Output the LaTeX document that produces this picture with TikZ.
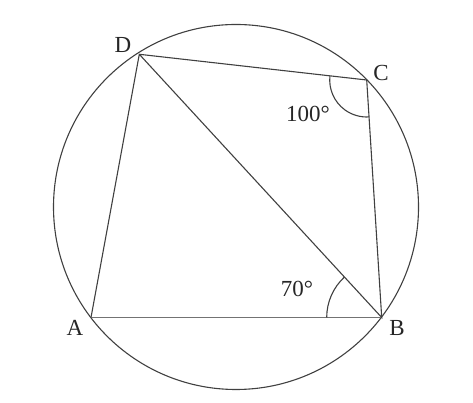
\documentclass[tikz,border=0pt]{standalone}
\usepackage{fontspec}
\setmainfont{Liberation Serif}
\begin{document}
\begin{tikzpicture}[x=1pt,y=1pt,
  geo/.style={line width=1.1pt, draw=black!75},
  base/.style={line width=1.8pt, draw=black!55},
  lbl/.style={font=\fontsize{23}{26}\selectfont, text=black!85, inner sep=0pt}]
\useasboundingbox (0,0) rectangle (473,403);
\coordinate (O) at (236,196);
\coordinate (D) at (139.3,348.7);
\coordinate (C) at (366.7,323);
\coordinate (A) at (91,85.5);
\coordinate (B) at (381.7,85.5);
\draw[geo] (O) circle[radius=182.5];
\draw[base] (A) -- (B);
\draw[geo] (A) -- (D) -- (C) -- (B) -- (D);
\draw[geo] (C) ++(173.5:37) arc[start angle=173.5, end angle=273.6, radius=37];
\draw[geo] (B) ++(132.7:55) arc[start angle=132.7, end angle=180, radius=55];
\node[lbl] (lD) at (123,358) {D};
\node[lbl] (lC) at (381,330) {C};
\node[lbl] (lA) at (75,75) {A};
\node[lbl] (lB) at (397,75) {B};
\node[lbl] (l100) at (308,289) {100°};
\node[lbl] (l70) at (297,114) {70°};
\end{tikzpicture}
\end{document}
